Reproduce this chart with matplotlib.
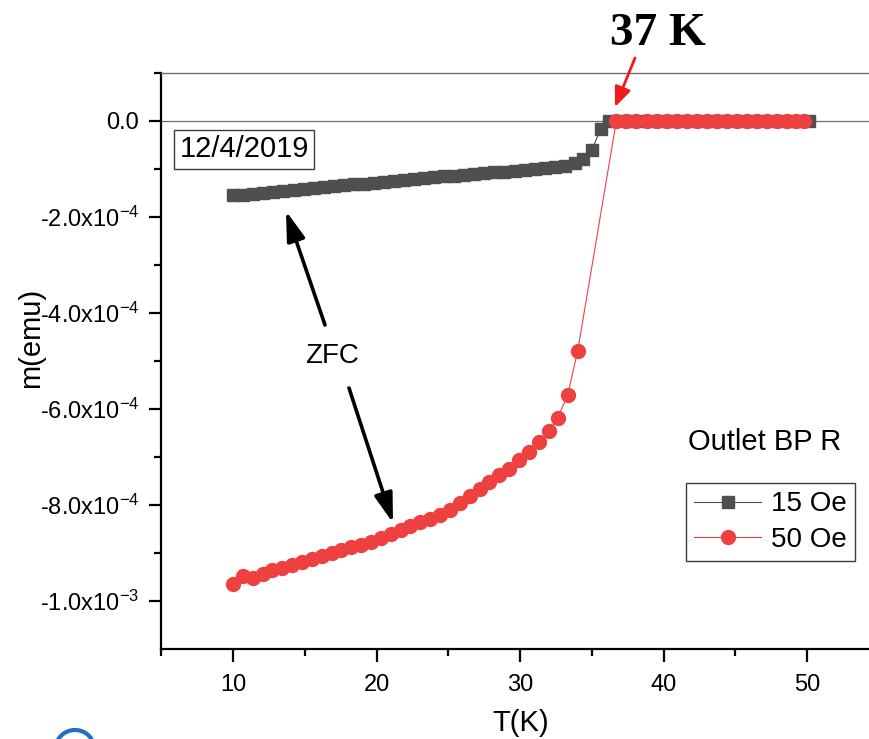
import matplotlib
matplotlib.use('Agg')
import matplotlib.pyplot as plt
from matplotlib.patches import Arc

plt.rcParams['font.family'] = ['Liberation Sans', 'DejaVu Sans']
plt.rcParams['mathtext.fontset'] = 'custom'
plt.rcParams['mathtext.rm'] = 'Liberation Sans'
plt.rcParams['mathtext.default'] = 'regular'

# ---------------- data ----------------
T_15 = [10.0, 10.7, 11.4, 12.1, 12.8, 13.5, 14.2, 14.9, 15.6, 16.3, 17.0, 17.7,
        18.4, 19.1, 19.8, 20.5, 21.2, 21.9, 22.6, 23.3, 24.0, 24.7, 25.4, 26.1,
        26.8, 27.5, 28.2, 28.9, 29.6, 30.3, 31.0, 31.7, 32.4, 33.1, 33.8, 34.4,
        35.0, 35.6, 36.2, 36.9, 37.6, 38.3, 39.0, 39.7, 40.4, 41.1, 41.8, 42.5,
        43.2, 43.9, 44.6, 45.3, 46.0, 46.7, 47.4, 48.1, 48.8, 49.5, 50.1]
m_15 = [-1.55e-4, -1.54e-4, -1.52e-4, -1.50e-4, -1.48e-4, -1.46e-4, -1.44e-4,
        -1.42e-4, -1.40e-4, -1.38e-4, -1.36e-4, -1.34e-4, -1.32e-4, -1.31e-4,
        -1.29e-4, -1.27e-4, -1.25e-4, -1.23e-4, -1.21e-4, -1.19e-4, -1.18e-4,
        -1.16e-4, -1.15e-4, -1.13e-4, -1.11e-4, -1.09e-4, -1.07e-4, -1.06e-4,
        -1.04e-4, -1.03e-4, -1.01e-4, -0.99e-4, -0.97e-4, -0.94e-4, -0.89e-4,
        -0.80e-4, -0.60e-4, -0.18e-4, -0.01e-4, 0.0, 0.0, 0.0, 0.0, 0.0, 0.0,
        0.0, 0.0, 0.0, 0.0, 0.0, 0.0, 0.0, 0.0, 0.0, 0.0, 0.0, 0.0, 0.0, 0.0]

T_50 = [10.0, 10.7, 11.4, 12.1, 12.7, 13.4, 14.1, 14.8, 15.5, 16.2, 16.9, 17.5,
        18.2, 18.9, 19.6, 20.3, 21.0, 21.7, 22.3, 23.0, 23.7, 24.4, 25.1, 25.8,
        26.5, 27.2, 27.8, 28.5, 29.2, 29.9, 30.6, 31.3, 32.0, 32.6, 33.3, 34.0,
        36.7, 37.4, 38.1, 38.8, 39.5, 40.2, 40.9, 41.6, 42.3, 43.0, 43.7, 44.4,
        45.1, 45.8, 46.5, 47.2, 47.9, 48.6, 49.2, 49.8]
m_50 = [-9.66e-4, -9.49e-4, -9.53e-4, -9.44e-4, -9.37e-4, -9.31e-4, -9.26e-4,
        -9.20e-4, -9.14e-4, -9.07e-4, -9.00e-4, -8.95e-4, -8.89e-4, -8.83e-4,
        -8.77e-4, -8.69e-4, -8.60e-4, -8.52e-4, -8.45e-4, -8.37e-4, -8.29e-4,
        -8.21e-4, -8.10e-4, -7.96e-4, -7.82e-4, -7.67e-4, -7.53e-4, -7.39e-4,
        -7.26e-4, -7.07e-4, -6.90e-4, -6.70e-4, -6.47e-4, -6.20e-4, -5.72e-4,
        -4.80e-4, 0.0, 0.0, 0.0, 0.0, 0.0, 0.0, 0.0, 0.0, 0.0, 0.0, 0.0, 0.0,
        0.0, 0.0, 0.0, 0.0, 0.0, 0.0, 0.0, 0.0]

series_labels = ['15 Oe', '50 Oe']
x_ticks = [10, 20, 30, 40, 50]
x_tick_labels = ['10', '20', '30', '40', '50']
y_ticks = [0.0, -2e-4, -4e-4, -6e-4, -8e-4, -1e-3]
y_tick_labels = ['0.0', '-2.0x10$^{-4}$', '-4.0x10$^{-4}$', '-6.0x10$^{-4}$',
                 '-8.0x10$^{-4}$', '-1.0x10$^{-3}$']

# ---------------- figure ----------------
W, H = 870, 739
fig = plt.figure(figsize=(W / 100, H / 100), dpi=100)


def fx(px):
    return px / W


def fy(py):
    return 1 - py / H


ax = fig.add_axes([fx(161.5), fy(648.7), 717.5 / W, (648.7 - 72.7) / H])

ax.axhline(0, color='#6e6e6e', lw=0.9, zorder=1)
ax.plot(T_15, m_15, color='#4f4f4f', marker='s', ms=9, lw=0.8,
        mec='#4f4f4f', label=series_labels[0], zorder=3)
ax.plot(T_50, m_50, color='#ef4040', marker='o', ms=10, lw=0.8,
        mec='#ef4040', label=series_labels[1], zorder=4)

ax.set_xlim(5, 55)
ax.set_ylim(-1.1e-3, 1e-4)
ax.set_xticks(x_ticks)
ax.set_xticklabels(x_tick_labels)
ax.set_xticks([5, 15, 25, 35, 45], minor=True)
ax.set_yticks(y_ticks)
ax.set_yticklabels(y_tick_labels)
ax.set_yticks([1e-4, -1e-4, -3e-4, -5e-4, -7e-4, -9e-4], minor=True)

for s in ['left', 'bottom']:
    ax.spines[s].set_linewidth(1.6)
    ax.spines[s].set_color('black')
ax.spines['top'].set_linewidth(1.0)
ax.spines['top'].set_color('#6e6e6e')
ax.spines['right'].set_visible(False)

ax.tick_params(axis='both', which='major', direction='out', length=9,
               width=1.6, labelsize=17)
ax.tick_params(axis='both', which='minor', direction='out', length=5,
               width=1.6)
ax.tick_params(axis='y', which='major', pad=7)
ax.tick_params(axis='x', which='major', pad=9)

# axis labels
fig.text(fx(521), fy(731), 'T(K)', fontsize=21, ha='center', va='baseline')
fig.text(fx(39), fy(338), 'm(emu)', fontsize=21, rotation=90,
         rotation_mode='anchor', ha='center', va='baseline')

# annotations
fig.text(fx(244), fy(157.3), '12/4/2019', fontsize=21, ha='center',
         va='baseline',
         bbox=dict(boxstyle='square,pad=0.18', fc='white', ec='#3c3c3c', lw=1))
fig.text(fx(332), fy(363.3), 'ZFC', fontsize=20, ha='center', va='baseline')
fig.text(fx(765), fy(450), 'Outlet BP R', fontsize=21, ha='center',
         va='baseline')
fig.text(fx(658), fy(45), '37 K', family='Liberation Serif', weight='bold',
         fontsize=34, ha='center', va='baseline')

ax.annotate('', xy=(fx(286), fy(211)), xytext=(fx(325), fy(325)),
            xycoords='figure fraction', textcoords='figure fraction',
            arrowprops=dict(arrowstyle='-|>,head_length=0.9,head_width=0.28',
                            color='black', lw=2.6, mutation_scale=20,
                            shrinkA=0, shrinkB=0))
ax.annotate('', xy=(fx(393), fy(523)), xytext=(fx(349), fy(388)),
            xycoords='figure fraction', textcoords='figure fraction',
            arrowprops=dict(arrowstyle='-|>,head_length=0.9,head_width=0.28',
                            color='black', lw=2.6, mutation_scale=20,
                            shrinkA=0, shrinkB=0))
ax.annotate('', xy=(fx(615), fy(107)), xytext=(fx(635), fy(58)),
            xycoords='figure fraction', textcoords='figure fraction',
            arrowprops=dict(arrowstyle='-|>,head_length=0.6,head_width=0.25',
                            color='#ee1c1c', lw=2.0, mutation_scale=20,
                            shrinkA=0, shrinkB=0))

leg = ax.legend(loc='upper left', bbox_to_anchor=(fx(686), fy(483)),
                bbox_transform=fig.transFigure, fontsize=20, frameon=True,
                fancybox=False, edgecolor='#3c3c3c', framealpha=1,
                borderaxespad=0, handlelength=2.4, handletextpad=0.35,
                borderpad=0.3, labelspacing=0.35)
leg.get_frame().set_linewidth(1.0)

# partial blue logo stroke at bottom-left corner
arc = Arc((fx(75), fy(748)), 38 / W, 36 / H, theta1=30, theta2=160,
          transform=fig.transFigure, color='#1f6fc6', lw=3)
fig.add_artist(arc)

fig.savefig('out.png', dpi=100)
